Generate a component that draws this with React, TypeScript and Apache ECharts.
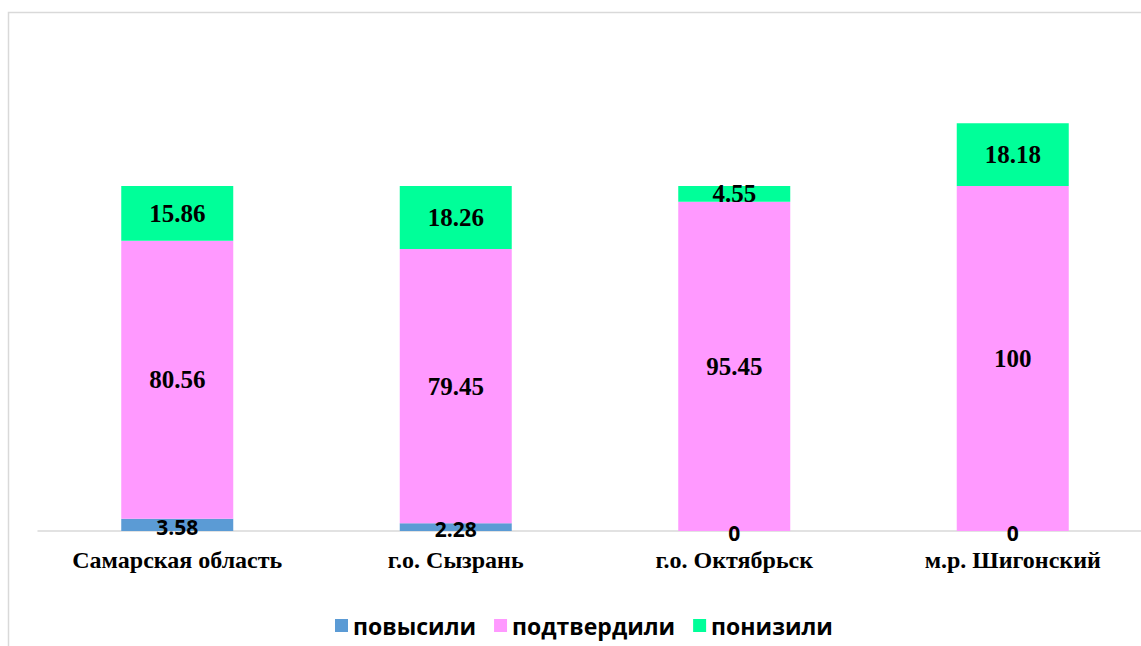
import React, { useEffect, useRef } from "react";
import * as echarts from "echarts";

const categories = ["Самарская область", "г.о. Сызрань", "г.о. Октябрьск", "м.р. Шигонский"];
const raised = [3.58, 2.28, 0, 0];
const confirmed = [80.56, 79.45, 95.45, 100];
const lowered = [15.86, 18.26, 4.55, 18.18];
const seriesNames = ["повысили", "подтвердили", "понизили"];
const colors = ["#5b9bd5", "#ff99ff", "#00ff99"];

export default function App() {
  const ref = useRef<HTMLDivElement>(null);
  useEffect(() => {
    if (!ref.current) return;
    const chart = echarts.init(ref.current, null, { renderer: "svg" });
    const serifLabel = {
      show: true,
      position: "inside",
      color: "#000",
      fontFamily: "Liberation Serif",
      fontWeight: "bold",
      fontSize: 25,
    };
    chart.setOption({
      animation: false,
      backgroundColor: "#fff",
      graphic: [
        {
          type: "rect",
          shape: { x: 8.5, y: 12.5, width: 1200, height: 700 },
          style: { fill: "none", stroke: "#d9d9d9", lineWidth: 1.5 },
          silent: true,
        },
      ],
      legend: {
        left: 330,
        top: 609,
        itemWidth: 13,
        itemHeight: 13,
        itemGap: 18,
        icon: "rect",
        textStyle: {
          fontFamily: "Open Sans",
          fontWeight: "bold",
          fontSize: 23,
          color: "#000",
        },
        data: seriesNames,
      },
      grid: { left: 38, top: 117, width: 1114, height: 414 },
      xAxis: {
        type: "category",
        data: categories,
        axisLine: { lineStyle: { color: "#d9d9d9", width: 1.5 } },
        axisTick: { show: false },
        axisLabel: {
          interval: 0,
          margin: 17,
          color: "#000",
          fontFamily: "Liberation Serif",
          fontWeight: "bold",
          fontSize: 24,
        },
      },
      yAxis: {
        type: "value",
        min: 0,
        max: 120,
        show: false,
        splitLine: { show: false },
      },
      series: [
        {
          name: seriesNames[0],
          type: "bar",
          stack: "total",
          barWidth: 112,
          data: raised,
          itemStyle: { color: colors[0] },
          label: {
            show: true,
            position: "inside",
            offset: [0, 2],
            color: "#000",
            fontFamily: "Open Sans",
            fontWeight: "bold",
            fontSize: 21,
          },
        },
        {
          name: seriesNames[1],
          type: "bar",
          stack: "total",
          barWidth: 112,
          data: confirmed,
          itemStyle: { color: colors[1] },
          label: serifLabel,
        },
        {
          name: seriesNames[2],
          type: "bar",
          stack: "total",
          barWidth: 112,
          data: lowered,
          itemStyle: { color: colors[2] },
          label: serifLabel,
        },
      ],
    });
    return () => chart.dispose();
  }, []);
  return (
    <div
      ref={ref}
      style={{ position: "fixed", left: 0, top: 0, width: 1170, height: 646 }}
    />
  );
}
